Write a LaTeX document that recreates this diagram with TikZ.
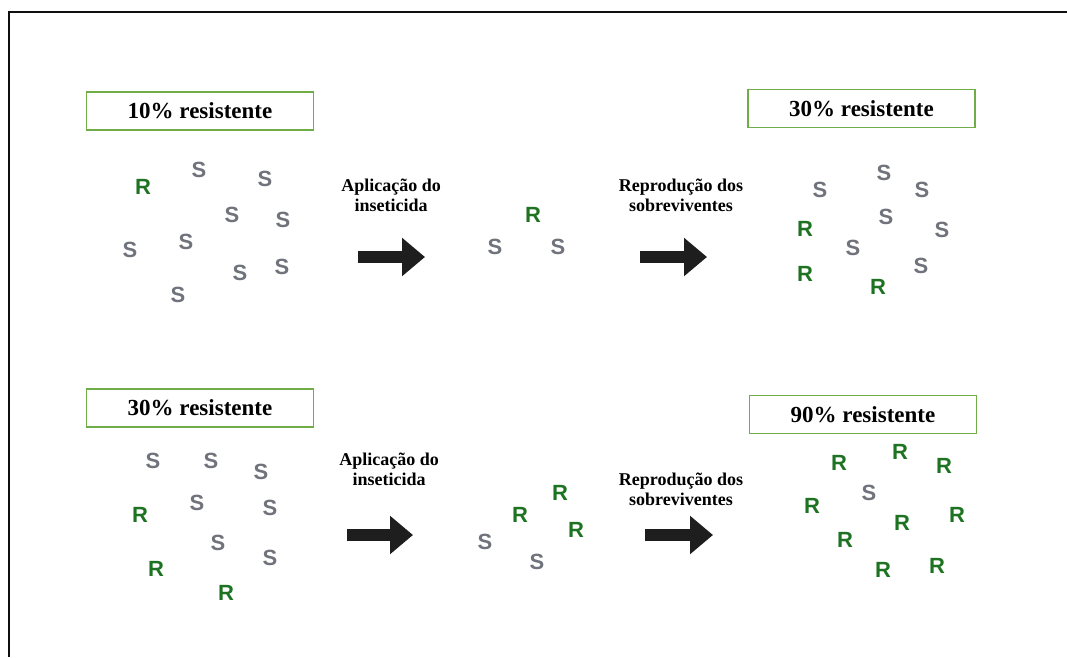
\documentclass[tikz,border=0pt]{standalone}
\usepackage{fontspec}
\setmainfont{Liberation Serif}
\newfontfamily\letterfont{Liberation Sans}
\usetikzlibrary{arrows.meta,positioning}
\definecolor{frameInk}{RGB}{15,15,15}
\definecolor{boxGreen}{RGB}{112,173,71}
\definecolor{resGreen}{RGB}{30,115,34}
\definecolor{susGray}{RGB}{112,114,124}
\definecolor{arrowInk}{RGB}{30,30,30}
\tikzset{
  pctbox/.style={draw=boxGreen, line width=1.4pt, minimum width=227pt, minimum height=38pt, inner sep=0pt, font=\bfseries\fontsize{23}{26}\selectfont},
  steplabel/.style={align=center, inner sep=0pt, font=\bfseries\fontsize{18}{20}\selectfont},
  rletter/.style={inner sep=0pt, text=resGreen, font=\letterfont\bfseries\fontsize{22}{22}\selectfont},
  sletter/.style={rletter, text=susGray},
  bigarrow/.style={-{Triangle[length=23pt, width=37pt]}, line width=12pt, draw=arrowInk}
}

\begin{document}
\begin{tikzpicture}[x=1pt, y=-1pt]
        \useasboundingbox (0,0) rectangle (1067,657);
        \coordinate (fTR) at (1067,12);
        \coordinate (fTL) at (9,12);
        \coordinate (fBL) at (9,657);
        \draw[frameInk, line width=1.6pt] (fTR) -- (fTL) -- (fBL);

        \node[pctbox] (boxA) at (200,111) {10\% resistente};
        \node[pctbox] (boxB) at (861.5,108.5) {30\% resistente};
        \node[pctbox] (boxC) at (200,408) {30\% resistente};
        \node[pctbox] (boxD) at (863,414.5) {90\% resistente};

        \node[steplabel] (apA) at (391,195) {Aplicação do\\inseticida};
        \node[steplabel] (reA) at (681,195) {Reprodução dos\\sobreviventes};
        \node[steplabel] (apB) at (389,469) {Aplicação do\\inseticida};
        \node[steplabel] (reB) at (681,489) {Reprodução dos\\sobreviventes};

        \coordinate (arAs) at (358,257);
        \coordinate (arAe) at (425,257);
        \coordinate (arBs) at (640,257);
        \coordinate (arBe) at (707,257);
        \coordinate (arCs) at (347,535);
        \coordinate (arCe) at (413,535);
        \coordinate (arDs) at (645,535);
        \coordinate (arDe) at (713,535);
        \draw[bigarrow] (arAs) -- (arAe);
        \draw[bigarrow] (arBs) -- (arBe);
        \draw[bigarrow] (arCs) -- (arCe);
        \draw[bigarrow] (arDs) -- (arDe);

        \foreach \x/\y [count=\i] in {143/187, 533/215, 805/229, 805/274, 878/287,
            140/515, 156/569, 226/593, 560/493, 520/515, 576/530,
            900/452, 839/463, 944/466, 812/506, 957/515, 902/523, 845/540, 883/570, 937/566}
          \node[rletter] (r\i) at (\x,\y) {R};
        \foreach \x/\y [count=\i] in {199/170, 265/179, 232/215, 283/220, 130/250, 186/242, 240/273, 282/267, 178/295,
            495/247, 558/247,
            884/173, 820/190, 922/190, 886/217, 942/230, 853/248, 921/266,
            153/461, 211/461, 261/472, 197/503, 270/508, 218/543, 270/558,
            485/542, 537/562,
            869/493}
          \node[sletter] (s\i) at (\x,\y) {S};
      \end{tikzpicture}
\end{document}
